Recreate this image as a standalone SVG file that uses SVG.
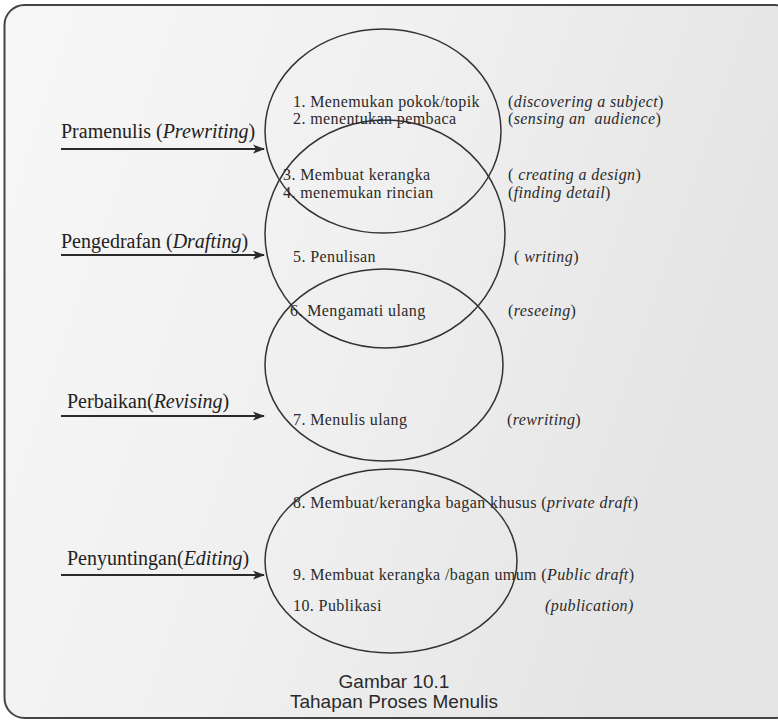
<svg xmlns="http://www.w3.org/2000/svg" width="778" height="721" viewBox="0 0 778 721">
<style>
.lbl{font-family:"Liberation Serif","Times New Roman",serif;font-size:20px;fill:#222}
.it{font-family:"Liberation Serif","Times New Roman",serif;font-size:16px;letter-spacing:0.4px;fill:#2a2a2a;white-space:pre}
.en{font-family:"Liberation Serif","Times New Roman",serif;font-size:16px;letter-spacing:0.4px;fill:#2a2a2a;white-space:pre}
.i{font-style:italic}
.cap{font-family:"Liberation Sans",Arial,sans-serif;font-size:19px;fill:#2a2a2a;text-anchor:middle}
.ell{fill:none;stroke:#333;stroke-width:1.5}
.arr{stroke:#2a2a2a;stroke-width:2.2;fill:none;marker-end:url(#ah)}
</style>
<defs>
<linearGradient id="bg" x1="0" y1="0" x2="1" y2="0.3">
<stop offset="0" stop-color="#f7f7f7"/>
<stop offset="0.5" stop-color="#f0f0f0"/>
<stop offset="1" stop-color="#e4e4e4"/>
</linearGradient>
<marker id="ah" markerWidth="12" markerHeight="10" refX="11" refY="5" orient="auto" markerUnits="userSpaceOnUse">
<path d="M0,0.5 L12,5 L0,9.5 L3,5 Z" fill="#2a2a2a"/>
</marker>
</defs>
<rect x="0" y="0" width="778" height="721" fill="#ffffff"/>
<rect id="frame" x="4.5" y="5" width="790" height="713" rx="20" ry="20" fill="url(#bg)" stroke="#444" stroke-width="2"/>

<g id="circles">
<ellipse id="c1" class="ell" cx="383" cy="131" rx="118" ry="102"/>
<ellipse id="c2" class="ell" cx="385" cy="234" rx="120" ry="114"/>
<ellipse id="c3" class="ell" cx="384" cy="365" rx="119" ry="96"/>
<ellipse id="c4" class="ell" cx="391" cy="561" rx="126" ry="92"/>
</g>

<g id="connectors">
<line class="arr" x1="61" y1="149" x2="264" y2="149"/>
<line class="arr" x1="61" y1="255" x2="264" y2="255"/>
<line class="arr" x1="61" y1="416" x2="264" y2="416"/>
<line class="arr" x1="61" y1="575" x2="264" y2="575"/>
</g>

<g id="prewriting">
<text class="lbl" x="61" y="138">Pramenulis (<tspan class="i">Prewriting</tspan>)</text>
<text class="it" x="293" y="107">1. Menemukan pokok/topik</text>
<text class="it" x="293" y="124">2. menentukan pembaca</text>
<text class="en" x="508" y="107">(<tspan class="i">discovering a subject</tspan>)</text>
<text class="en" x="508" y="124">(<tspan class="i">sensing an  audience</tspan>)</text>
</g>

<g id="drafting">
<text class="lbl" x="61" y="248">Pengedrafan (<tspan class="i">Drafting</tspan>)</text>
<text class="it" x="283" y="180">3. Membuat kerangka</text>
<text class="it" x="283" y="198">4. menemukan rincian</text>
<text class="en" x="508" y="180">( <tspan class="i">creating a design</tspan>)</text>
<text class="en" x="508" y="198">(<tspan class="i">finding detail</tspan>)</text>
<text class="it" x="293" y="262">5. Penulisan</text>
<text class="en" x="514" y="262">( <tspan class="i">writing</tspan>)</text>
<text class="it" x="290" y="316">6. Mengamati ulang</text>
<text class="en" x="508" y="316">(<tspan class="i">reseeing</tspan>)</text>
</g>

<g id="revising">
<text class="lbl" x="67" y="408">Perbaikan(<tspan class="i">Revising</tspan>)</text>
<text class="it" x="293" y="425">7. Menulis ulang</text>
<text class="en" x="507" y="425">(<tspan class="i">rewriting</tspan>)</text>
</g>

<g id="editing">
<text class="lbl" x="67" y="565">Penyuntingan(<tspan class="i">Editing</tspan>)</text>
<text class="it" x="293" y="508">8. Membuat/kerangka bagan khusus (<tspan class="i">private draft</tspan>)</text>
<text class="it" x="293" y="580">9. Membuat kerangka /bagan umum (<tspan class="i">Public draft</tspan>)</text>
<text class="it" x="293" y="611">10. Publikasi</text>
<text class="en i" x="545" y="611">(publication)</text>
</g>

<g id="caption">
<text class="cap" x="394" y="688">Gambar 10.1</text>
<text class="cap" x="394" y="708">Tahapan Proses Menulis</text>
</g>
</svg>
